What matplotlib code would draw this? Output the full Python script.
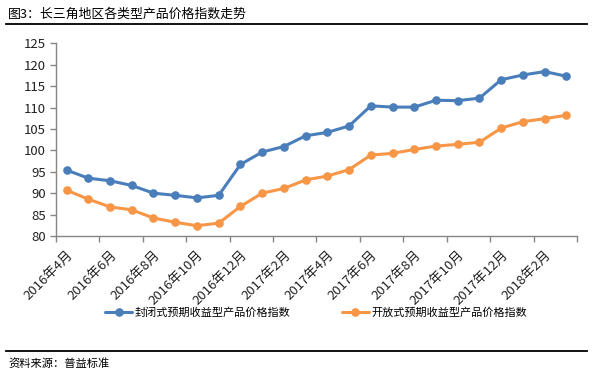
import matplotlib
matplotlib.use("Agg")
import matplotlib.pyplot as plt
from matplotlib.lines import Line2D

plt.rcParams['font.family'] = ['Noto Sans CJK SC', 'DejaVu Sans']

months = ["2016年4月", "2016年5月", "2016年6月", "2016年7月", "2016年8月", "2016年9月",
          "2016年10月", "2016年11月", "2016年12月", "2017年1月", "2017年2月", "2017年3月",
          "2017年4月", "2017年5月", "2017年6月", "2017年7月", "2017年8月", "2017年9月",
          "2017年10月", "2017年11月", "2017年12月", "2018年1月", "2018年2月", "2018年3月"]
closed_idx = [95.4, 93.5, 92.9, 91.8, 90.0, 89.5, 88.9, 89.5, 96.7, 99.6, 100.9, 103.4,
              104.2, 105.7, 110.4, 110.1, 110.1, 111.7, 111.6, 112.2, 116.5, 117.6, 118.4, 117.3]
open_idx = [90.7, 88.6, 86.8, 86.1, 84.2, 83.2, 82.4, 83.0, 86.9, 90.0, 91.1, 93.1,
            94.0, 95.5, 98.9, 99.3, 100.2, 101.0, 101.4, 101.9, 105.2, 106.7, 107.4, 108.2]
series_names = ["封闭式预期收益型产品价格指数", "开放式预期收益型产品价格指数"]
colors = ["#4A7EBB", "#F79646"]
title = "图3：长三角地区各类型产品价格指数走势"
source = "资料来源：普益标准"
yticks = [80, 85, 90, 95, 100, 105, 110, 115, 120, 125]

W, H = 595, 375
fig = plt.figure(figsize=(W / 100, H / 100), dpi=100)
ax = fig.add_axes([55.7 / W, 1 - 236 / H, (577.3 - 55.7) / W, (236 - 43.3) / H])

x = list(range(len(months)))
handles = []
for vals, c in zip([closed_idx, open_idx], colors):
    h, = ax.plot(x, vals, color=c, lw=2.2, marker='o', markersize=6.2,
                 markeredgewidth=0, solid_capstyle='round')
    handles.append(h)

ax.set_xlim(-0.5, len(months) - 0.5)
ax.set_ylim(80, 125)
ax.set_yticks(yticks)
ax.set_yticklabels([str(v) for v in yticks], fontsize=9.5, color='#222222')

# category boundaries as major ticks, labels on every other category
ax.set_xticks([i - 0.5 for i in range(0, len(months) + 1, 2)])
ax.set_xticklabels([])
ax.set_xticks(x[::2], minor=True)
ax.set_xticklabels(months[::2], minor=True, rotation=45, ha='right', va='top',
                   rotation_mode='anchor', fontsize=9.5, color='#222222')
ax.tick_params(axis='x', which='minor', length=0, pad=9)
ax.tick_params(axis='x', which='major', length=4, width=1, color='#868686', direction='out')
ax.tick_params(axis='y', length=4, width=1, color='#868686', direction='out', pad=3)

for s in ['top', 'right']:
    ax.spines[s].set_visible(False)
for s in ['left', 'bottom']:
    ax.spines[s].set_color('#868686')
    ax.spines[s].set_linewidth(1)

fig.legend(handles, series_names, loc='center', ncol=2,
           bbox_to_anchor=(316 / W, 1 - 313 / H), frameon=False, fontsize=8,
           handlelength=2.5, handletextpad=0.2, columnspacing=4.6, borderpad=0)

fig.text(8 / W, 1 - 14 / H, title, fontsize=9.3, va='center', ha='left', color='black')
fig.add_artist(Line2D([6 / W, 587 / W], [1 - 24 / H, 1 - 24 / H], color='black', lw=1.3))
fig.add_artist(Line2D([6 / W, 587 / W], [1 - 350.5 / H, 1 - 350.5 / H], color='black', lw=1.3))
fig.text(8 / W, 1 - 363 / H, source, fontsize=8.1, va='center', ha='left', color='black')

fig.savefig("out.png", dpi=100, facecolor='white')
